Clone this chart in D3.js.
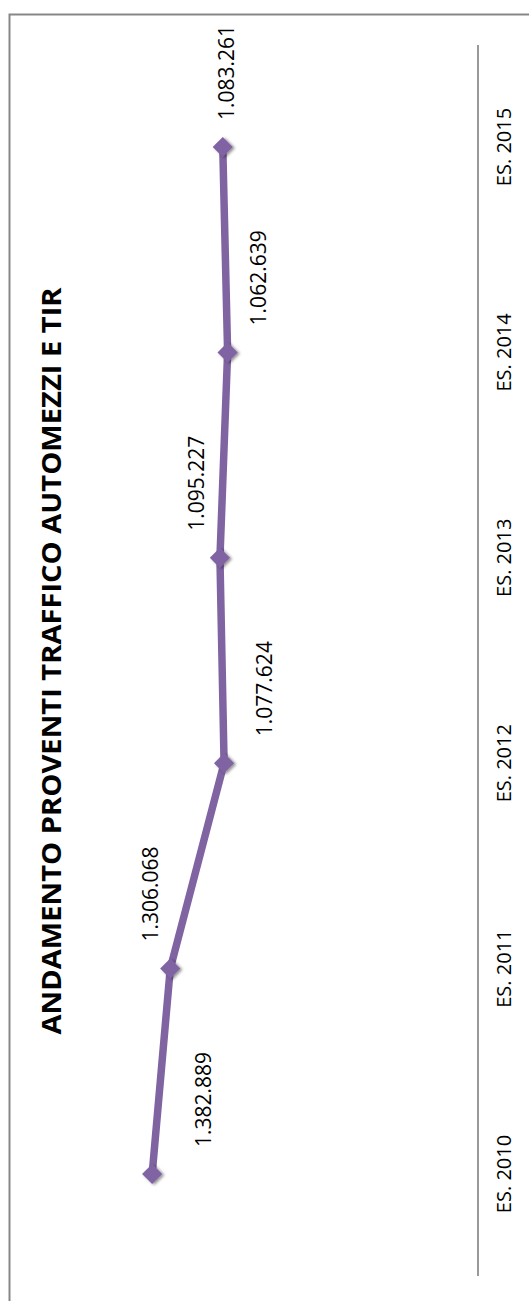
<!DOCTYPE html>
<html>
<head>
<meta charset="utf-8">
<script src="https://cdn.jsdelivr.net/npm/d3@7"></script>
<style>
  body { margin: 0; background: #fff; }
  text { font-family: "Open Sans", "Liberation Sans", sans-serif; fill: #000; }
</style>
</head>
<body>
<div class="plot"></div>
<script>
// chart is drawn turned 90deg: categories run bottom->top, values grow to the left
const years = ["ES. 2010", "ES. 2011", "ES. 2012", "ES. 2013", "ES. 2014", "ES. 2015"];
const proventi = [1382889, 1306068, 1077624, 1095227, 1062639, 1083261];
const labelShift = [51, -20, 40, -24, 30, 3]; // hand placed label offsets

const W = 529, H = 1301;
const fmt = v => d3.format(",")(v).replace(/,/g, ".");

var svg = d3.select(".plot").append("svg")
    .attr("width", W)
    .attr("height", H);

var defs = svg.append("defs");
var shadow = defs.append("filter").attr("id", "shadow")
    .attr("x", "-50%").attr("y", "-50%").attr("width", "200%").attr("height", "200%");
shadow.append("feDropShadow")
    .attr("dx", 2).attr("dy", 1).attr("stdDeviation", 1.5)
    .attr("flood-color", "#000").attr("flood-opacity", 0.45);

// frame (cut off at right and bottom)
svg.append("rect")
    .attr("x", 9.5).attr("y", 14.5)
    .attr("width", 700).attr("height", 1500)
    .attr("fill", "none")
    .attr("stroke", "#878787")
    .attr("stroke-width", 2);

var y = d3.scalePoint()
    .domain(years)
    .range([1174, 147]);

var x = d3.scaleLinear()
    .domain([0, 1600000])
    .range([478, 101]);

// category axis
svg.append("line")
    .attr("x1", x(0)).attr("x2", x(0))
    .attr("y1", 45).attr("y2", 1276)
    .attr("stroke", "#999")
    .attr("stroke-width", 2);

svg.selectAll(".cat")
    .data(years)
    .enter()
    .append("text")
    .attr("class", "cat")
    .attr("transform", d => `translate(${503},${y(d)}) rotate(-90)`)
    .attr("text-anchor", "middle")
    .attr("dominant-baseline", "central")
    .style("font-size", "20px")
    .text(d => d);

// title
svg.append("text")
    .attr("transform", `translate(${50},${661}) rotate(-90)`)
    .attr("text-anchor", "middle")
    .attr("dominant-baseline", "central")
    .attr("textLength", 747)
    .attr("lengthAdjust", "spacingAndGlyphs")
    .style("font-size", "27px")
    .style("font-weight", "bold")
    .text("ANDAMENTO PROVENTI TRAFFICO AUTOMEZZI E TIR");

var line = d3.line()
    .x(d => x(d))
    .y((d, i) => y(years[i]));

svg.append("path")
    .datum(proventi)
    .attr("d", line)
    .attr("fill", "none")
    .attr("stroke", "#8064A2")
    .attr("stroke-width", 7.5)
    .attr("stroke-linejoin", "round");

svg.selectAll(".mark")
    .data(proventi)
    .enter()
    .append("path")
    .attr("class", "mark")
    .attr("d", d3.symbol().type(d3.symbolDiamond2).size(260))
    .attr("transform", (d, i) => `translate(${x(d)},${y(years[i])})`)
    .attr("fill", "#8064A2")
    .attr("filter", "url(#shadow)");

svg.selectAll(".lbl")
    .data(proventi)
    .enter()
    .append("text")
    .attr("class", "lbl")
    .attr("transform", (d, i) => `translate(${x(d) + labelShift[i]},${y(years[i]) - 27}) rotate(-90)`)
    .attr("text-anchor", "start")
    .attr("dominant-baseline", "central")
    .style("font-size", "21px")
    .text(d => fmt(d));
</script>
</body>
</html>
